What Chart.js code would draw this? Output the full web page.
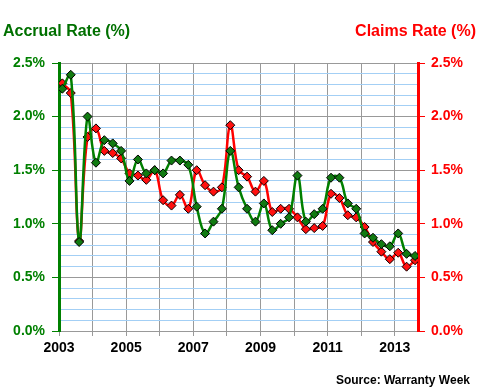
<!DOCTYPE html>
<html>
<head>
<meta charset="utf-8">
<script src="https://cdn.jsdelivr.net/npm/chart.js@4"></script>
<style>
  body { margin: 0; background: #fff; }
  #wrap { position: relative; width: 480px; height: 390px; }
  .lbl { position: absolute; font-family: 'Liberation Sans', Arial, sans-serif; font-weight: bold; white-space: nowrap; }
</style>
</head>
<body>
<div id="wrap">
  <canvas id="c" width="480" height="390"></canvas>
  <div class="lbl" style="left:3px; top:22px; font-size:16px; color:#007000;">Accrual Rate (%)</div>
  <div class="lbl" style="right:4px; top:22px; font-size:16px; color:#ff0000;">Claims Rate (%)</div>
  <div class="lbl" style="right:10px; top:373px; font-size:12px; color:#000;">Source: Warranty Week</div>
</div>
<script>
// quarterly, 2003 Q1 .. 2013 Q3
const quarterCount = 43;
const accrualRate = [2.26, 2.39, 0.83, 2.00, 1.57, 1.78, 1.75, 1.68, 1.40, 1.60, 1.47, 1.50, 1.47, 1.59, 1.59,
  1.55, 1.16, 0.91, 1.02, 1.14, 1.68, 1.34, 1.14, 1.02, 1.19, 0.94, 1.00, 1.06, 1.45,
  1.02, 1.09, 1.14, 1.43, 1.43, 1.19, 1.14, 0.91, 0.87, 0.81, 0.79, 0.91, 0.72, 0.70];
const claimsRate = [2.31, 2.22, 0.84, 1.81, 1.89, 1.68, 1.66, 1.61, 1.47, 1.45, 1.41, 1.50, 1.22, 1.17, 1.27,
  1.14, 1.50, 1.36, 1.30, 1.34, 1.92, 1.50, 1.44, 1.30, 1.40, 1.11, 1.14, 1.14, 1.06,
  0.95, 0.96, 0.98, 1.28, 1.24, 1.08, 1.06, 0.97, 0.83, 0.74, 0.67, 0.73, 0.60, 0.66];
const yearLabels = ['2003', '2005', '2007', '2009', '2011', '2013'];

const xs = [];
for (let i = 0; i < quarterCount; i++) xs.push(2003.1 + i * 0.25);
const toPoints = arr => arr.map((v, i) => ({ x: xs[i], y: v }));

const isMajor = v => Math.abs(v * 2 - Math.round(v * 2)) < 1e-6;
const font = { family: "'Liberation Sans', Arial, sans-serif", weight: 'bold', size: 14 };

new Chart(document.getElementById('c'), {
  type: 'line',
  data: {
    datasets: [
      {
        label: 'Accrual Rate (%)', data: toPoints(accrualRate), yAxisID: 'y',
        borderColor: '#008000', borderWidth: 2.5, tension: 0.4,
        pointStyle: 'rectRot', pointRadius: 4.5, pointBackgroundColor: '#117a11',
        pointBorderColor: '#000', pointBorderWidth: 1
      },
      {
        label: 'Claims Rate (%)', data: toPoints(claimsRate), yAxisID: 'y2',
        borderColor: '#ff0000', borderWidth: 2.5, tension: 0.4,
        pointStyle: 'rectRot', pointRadius: 4.5, pointBackgroundColor: '#ff1010',
        pointBorderColor: '#000', pointBorderWidth: 1
      }
    ]
  },
  options: {
    responsive: false,
    animation: false,
    layout: { padding: { top: 63 } },
    plugins: { legend: { display: false }, tooltip: { enabled: false } },
    scales: {
      x: {
        type: 'linear', min: 2003, max: 2013.69,
        border: { color: '#999', width: 1 },
        grid: { color: '#999', tickColor: '#999', tickLength: 5 },
        ticks: {
          stepSize: 1, includeBounds: false, autoSkip: false, maxRotation: 0,
          color: '#000', font: font, padding: 4,
          callback: v => yearLabels.includes(String(v)) ? String(v) : ''
        },
        afterFit: s => { s.height = 59; }
      },
      y: {
        position: 'left', min: 0, max: 2.5,
        border: { color: '#008000', width: 3 },
        grid: {
          color: ctx => isMajor(ctx.tick.value) ? '#999' : '#a3cff5',
          tickColor: ctx => isMajor(ctx.tick.value) ? '#008000' : 'rgba(0,0,0,0)',
          tickLength: 7, lineWidth: 1
        },
        ticks: {
          stepSize: 0.1, autoSkip: false, color: '#008000', font: font, padding: 7,
          callback: v => isMajor(v) ? v.toFixed(1) + '%' : ''
        },
        afterFit: s => { s.width = 59; }
      },
      y2: {
        position: 'right', min: 0, max: 2.5,
        border: { color: '#ff0000', width: 3 },
        grid: { drawOnChartArea: false, tickColor: '#ff0000', tickLength: 7 },
        ticks: {
          stepSize: 0.5, color: '#ff0000', font: font, padding: 6,
          callback: v => v.toFixed(1) + '%'
        },
        afterFit: s => { s.width = 62; }
      }
    }
  }
});
</script>
</body>
</html>
